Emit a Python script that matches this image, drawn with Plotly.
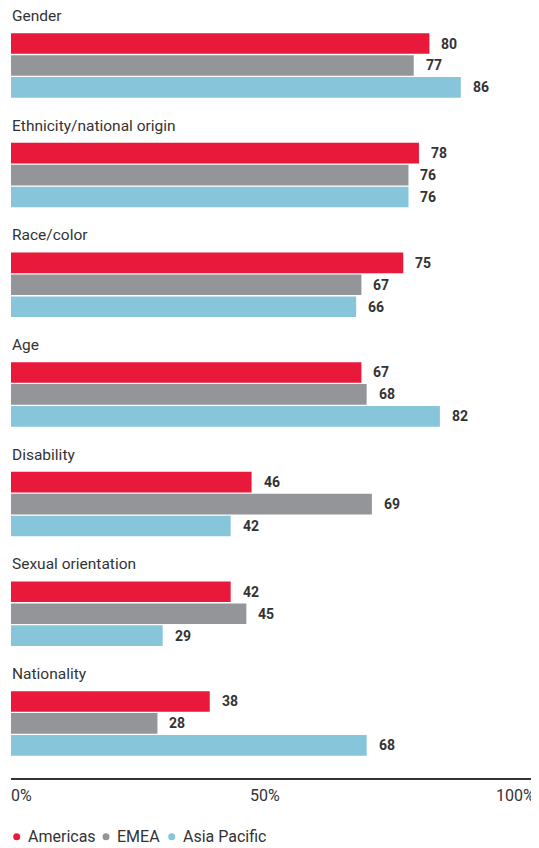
import plotly.graph_objects as go

categories = ["Gender", "Ethnicity/national origin", "Race/color", "Age",
              "Disability", "Sexual orientation", "Nationality"]
series_names = ["Americas", "EMEA", "Asia Pacific"]
americas = [80, 78, 75, 67, 46, 42, 38]
emea = [77, 76, 67, 68, 69, 45, 28]
asia_pacific = [86, 76, 66, 82, 42, 29, 68]
tick_values = [0, 50, 100]
tick_labels = ["0%", "50%", "100%"]

colors = ["#E8193A", "#939598", "#86C5DA"]
FONT = "Roboto, Open Sans, sans-serif"
TEXT = "#333333"

series = [americas, emea, asia_pacific]
GROUP = 5

fig = go.Figure()
annotations = []
shapes = []
for si, (name, vals, col) in enumerate(zip(series_names, series, colors)):
    ys = [g * GROUP + si for g in range(len(categories))]
    fig.add_trace(go.Bar(
        x=vals, y=ys, orientation="h", name=name,
        marker=dict(color=col, line=dict(width=0)),
        width=0.94, showlegend=False, hoverinfo="x+name",
    ))
    for v, y in zip(vals, ys):
        annotations.append(dict(
            x=v, y=y, xref="x", yref="y", text=f"<b>{v}</b>",
            showarrow=False, xanchor="left", yanchor="middle", xshift=10,
            font=dict(family=FONT, size=14, color=TEXT),
        ))

for g, cat in enumerate(categories):
    annotations.append(dict(
        x=0, y=g * GROUP - 1.26, xref="x", yref="y", text=cat,
        showarrow=False, xanchor="left", yanchor="middle", xshift=-1,
        font=dict(family=FONT, size=15.5, color=TEXT),
    ))

# axis tick labels
anchors = ["left", "center", "right"]
shifts = [-2, -8, 3]
for tv, tl, an, sh in zip(tick_values, tick_labels, anchors, shifts):
    annotations.append(dict(
        x=tv, y=0, xref="x", yref="paper", text=tl, showarrow=False,
        xanchor=an, yanchor="middle", yshift=-17, xshift=sh,
        font=dict(family=FONT, size=16, color=TEXT),
    ))

# legend: dots + labels
dot_px = [5.7, 95, 160.7]
text_px = [14.5, 104, 169.5]
for name, col, dx, tx in zip(series_names, colors, dot_px, text_px):
    shapes.append(dict(
        type="circle", xref="paper", yref="paper",
        xsizemode="pixel", ysizemode="pixel", xanchor=0, yanchor=0,
        x0=dx - 3.5, x1=dx + 3.5, y0=-62.2, y1=-55.2,
        fillcolor=col, line=dict(width=0),
    ))
    annotations.append(dict(
        x=0, y=0, xref="paper", yref="paper", text=name, showarrow=False,
        xanchor="left", yanchor="middle", yshift=-58, xshift=tx,
        font=dict(family=FONT, size=16, color=TEXT),
    ))

fig.update_layout(
    width=531, height=840,
    margin=dict(l=3, r=2, t=0, b=70),
    paper_bgcolor="white", plot_bgcolor="white",
    barmode="overlay",
    annotations=annotations,
    shapes=shapes,
    xaxis=dict(range=[0, 100.57], showgrid=False, zeroline=False,
               showticklabels=False, ticks="", showline=True,
               linecolor="#333333", linewidth=1.5, tickvals=tick_values,
               ticktext=tick_labels, fixedrange=True),
    yaxis=dict(range=[33.49, -1.619], showgrid=False, zeroline=False,
               showticklabels=False, ticks="", showline=False, fixedrange=True),
    showlegend=False,
)

fig.write_html("out.html")
